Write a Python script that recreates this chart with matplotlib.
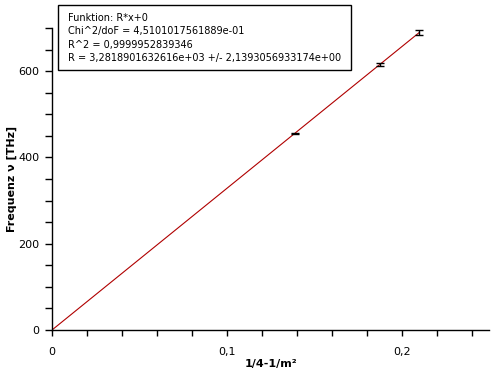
import numpy as np
import matplotlib as mpl
mpl.use('Agg')
import matplotlib.pyplot as plt
from matplotlib.ticker import MultipleLocator, FuncFormatter
from matplotlib.patches import Rectangle

# Balmer lines: 1/4 - 1/m^2 and measured frequency in THz
x = [0.1389, 0.1875, 0.2100]
nu = [455.5, 615.0, 689.5]
err = [1.5, 4.0, 5.0]
R = 3281.8901632616

fit_text = ['Funktion: R*x+0',
            'Chi^2/doF = 4,5101017561889e-01',
            'R^2 = 0,9999952839346',
            'R = 3,2818901632616e+03 +/- 2,1393056933174e+00']

W, H = 494, 376
fig = plt.figure(figsize=(W/100, H/100), dpi=100)
ax = fig.add_axes([52/W, 1-330/H, (489-52)/W, (330-28)/H])

xf = np.array([0, x[-1]])
ax.plot(xf, R*xf, color='#b00000', lw=0.8)
ax.errorbar(x, nu, yerr=err, fmt='none', ecolor='black', elinewidth=1, capsize=2.8, capthick=1)

ax.set_xlim(0, 0.25)
ax.set_ylim(0, 700)
ax.xaxis.set_major_locator(MultipleLocator(0.1))
ax.xaxis.set_minor_locator(MultipleLocator(0.02))
ax.yaxis.set_major_locator(MultipleLocator(200))
ax.yaxis.set_minor_locator(MultipleLocator(50))
ax.xaxis.set_major_formatter(FuncFormatter(lambda v, p: ('%g' % round(v, 3)).replace('.', ',')))
for s in ['top', 'right']:
    ax.spines[s].set_visible(False)
for s in ['left', 'bottom']:
    ax.spines[s].set_linewidth(1)
ax.tick_params(axis='x', which='both', direction='out', length=4, width=1, labelsize=8, pad=8)
ax.tick_params(axis='y', which='both', direction='out', length=5, width=1, labelsize=8, pad=4)
ax.set_xlabel('1/4-1/m²', fontsize=8, fontweight='bold', labelpad=2)
ax.set_ylabel('Frequenz ν [THz]', fontsize=8, fontweight='bold')
ax.yaxis.set_label_coords(-35/437, 0.5)

fig.patches.append(Rectangle((58/W, 1-70/H), (351-58)/W, 65/H, transform=fig.transFigure,
                             facecolor='white', edgecolor='black', lw=1))
for i, t in enumerate(fit_text):
    fig.text(68/W, 1-(18+13.3*i)/H, t, fontsize=7, va='center', ha='left')

fig.savefig('out.png', dpi=100)
